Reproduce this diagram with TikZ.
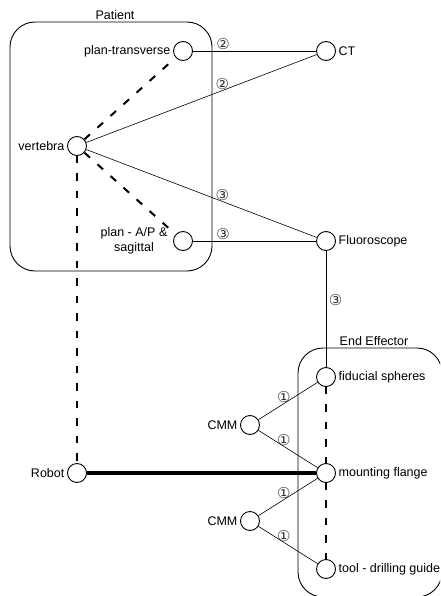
\documentclass[tikz,border=0pt]{standalone}
\usepackage{fontspec}
\setmainfont{Liberation Sans}
\newfontfamily\circfont{DejaVu Sans}
\usetikzlibrary{positioning}

\begin{document}
\begin{tikzpicture}[x=1pt, y=-1pt, font=\fontsize{12.5}{15.5}\selectfont,
  obj/.style={draw, circle, line width=0.9pt, minimum size=19pt, inner sep=0pt},
  grp/.style={draw, rounded corners=25pt, line width=0.9pt},
  rel/.style={line width=0.6pt},
  link/.style={line width=0.95pt},
  dep/.style={line width=2pt, dash pattern=on 7.5pt off 10pt},
  num/.style={font=\circfont\fontsize{15}{15}\selectfont, text=black!80, inner sep=0.5pt},
  every label/.append style={inner sep=1pt}, label distance=1.5pt]
\clip (0,0) rectangle (440,596);
% groups
\draw[grp] (10,22) rectangle (212,271);
\node (pat) at (115,15) {Patient};
\draw[grp] (298,348) rectangle (442,597);
\node (ee) at (374,341) {End Effector};
% objects
\node[obj, label=left:plan-transverse] (pt) at (183,51) {};
\node[obj, label=left:vertebra] (vert) at (77,146) {};
\node[obj, label={[align=center, xshift=-3pt]left:plan - A/P \&\\sagittal}] (ap) at (183,241) {};
\node[obj, label=right:CT] (ct) at (326,51) {};
\node[obj, label=right:Fluoroscope] (fl) at (326,241) {};
\node[obj, label=left:Robot] (robot) at (77,473) {};
\node[obj, label=right:fiducial spheres] (fid) at (326,377) {};
\node[obj, label=right:mounting flange] (mf) at (326,473) {};
\node[obj, label=right:tool - drilling guide] (tool) at (326,569) {};
\node[obj, label=left:CMM] (cmma) at (250,425) {};
\node[obj, label=left:CMM] (cmmb) at (250,521) {};
% imaging
\draw[link] (pt) -- node[num, pos=0.245, above] {②} (ct);
\draw[rel] (vert) -- node[num, pos=0.59, above] {②} (ct);
\draw[rel] (vert) -- node[num, pos=0.59, above] {③} (fl);
\draw[link] (ap) -- node[num, pos=0.245, above] {③} (fl);
\draw[link] (fl) -- node[num, pos=0.42, right=2pt] {③} (fid);
% registration
\draw[dep] (vert) -- (pt);
\draw[dep] (vert) -- (ap);
\draw[dep] (vert) -- (robot);
\draw[line width=4.5pt] (robot) -- (mf);
\draw[dep] (fid) -- (mf);
\draw[dep] (mf) -- (tool);
% calibration
\draw[rel] (cmma) -- node[num, pos=0.43, above] {①} (fid);
\draw[rel] (cmma) -- node[num, pos=0.43, above] {①} (mf);
\draw[rel] (cmmb) -- node[num, pos=0.43, above] {①} (mf);
\draw[rel] (cmmb) -- node[num, pos=0.43, above] {①} (tool);
\end{tikzpicture}
\end{document}
